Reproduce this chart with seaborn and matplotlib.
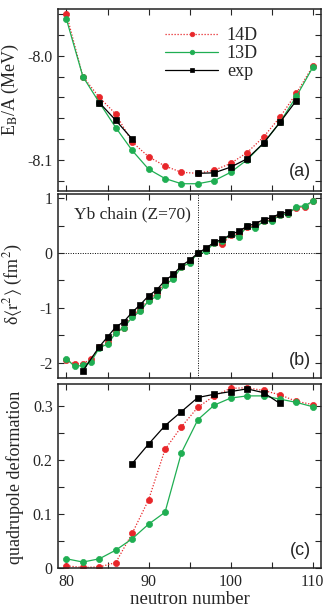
import numpy as np
import pandas as pd
import matplotlib
matplotlib.use("Agg")
import matplotlib.pyplot as plt
import seaborn as sns
from matplotlib.ticker import MultipleLocator, FormatStrFormatter, FuncFormatter

# ---- panel (a): binding energy per nucleon (even N)
n_a = list(range(80, 111, 2))
eb_14d = [-7.960, -8.020, -8.040, -8.056, -8.083, -8.097, -8.106, -8.112,
          -8.113, -8.110, -8.1035, -8.093, -8.078, -8.059, -8.036, -8.010]
eb_13d = [-7.965, -8.020, -8.045, -8.069, -8.091, -8.109, -8.118, -8.123,
          -8.123, -8.120, -8.112, -8.100, -8.084, -8.064, -8.039, -8.011]
eb_exp = [np.nan, np.nan, -8.045, -8.062, -8.080, np.nan, np.nan, np.nan,
          -8.113, -8.1125, -8.107, -8.099, -8.084, -8.064, -8.043, np.nan]

# ---- panel (b): charge radii shifts
n_b = list(range(80, 111))
r2_14d = [-1.95, -2.03, -2.02, -1.93, -1.72, -1.63, -1.43, -1.36, -1.13, -1.03,
          -0.85, -0.74, -0.55, -0.44, -0.26, -0.17, 0.00, 0.07, 0.19, 0.16,
          0.33, 0.35, 0.47, 0.50, 0.58, 0.61, 0.70, 0.72, 0.83, 0.84, 0.95]
r2_13d = [-1.93, -2.07, -2.05, -1.98, -1.73, -1.66, -1.46, -1.36, -1.17, -1.06,
          -0.87, -0.79, -0.58, -0.47, -0.25, -0.18, 0.00, 0.03, 0.19, 0.22,
          0.34, 0.30, 0.49, 0.45, 0.59, 0.58, 0.70, 0.71, 0.85, 0.86, 0.95]
n_b_exp = [82] + list(range(84, 108))
r2_exp = [-2.15, -1.71, -1.53, -1.35, -1.25, -1.08, -0.94, -0.78, -0.67, -0.50,
          -0.39, -0.23, -0.13, 0.00, 0.09, 0.20, 0.25, 0.34, 0.40, 0.49,
          0.54, 0.61, 0.65, 0.72, 0.75]

# ---- panel (c): quadrupole deformation
n_c = list(range(80, 111, 2))
beta_14d = [0.004, 0.001, 0.002, 0.010, 0.064, 0.126, 0.219, 0.261,
            0.297, 0.318, 0.332, 0.333, 0.328, 0.320, 0.308, 0.302]
beta_13d = [0.017, 0.011, 0.017, 0.033, 0.054, 0.081, 0.103, 0.213,
            0.274, 0.301, 0.314, 0.318, 0.318, 0.312, 0.306, 0.298]
n_c_exp = list(range(88, 107, 2))
beta_exp = [0.193, 0.229, 0.263, 0.289, 0.315, 0.321, 0.326, 0.331, 0.324, 0.304]

RED = "#e8262a"
GREEN = "#1fae52"

sns.set_style("ticks")
plt.rcParams["font.family"] = ["Liberation Serif", "DejaVu Serif"]
plt.rcParams["mathtext.fontset"] = "stix"
plt.rcParams["axes.unicode_minus"] = False


def draw(ax, x, y, color, ls, marker, ms, label=None):
    df = pd.DataFrame({"N": x, "v": y})
    df["seg"] = df["v"].isna().cumsum()
    df = df.dropna()
    sns.lineplot(data=df, x="N", y="v", units="seg", estimator=None, sort=False,
                 color=color, linestyle=ls, lw=0.9, marker=marker, markersize=ms,
                 markeredgecolor=color, markeredgewidth=0.5, label=label, ax=ax)


def style_axis(ax):
    ax.set_xlim(79, 111)
    ax.xaxis.set_major_locator(MultipleLocator(10))
    ax.xaxis.set_minor_locator(MultipleLocator(5))
    ax.tick_params(which="both", direction="in", top=True, right=True,
                   length=4, width=0.8, labelsize=11.5, pad=4)
    for s in ax.spines.values():
        s.set_linewidth(1.1)
        s.set_color("#222222")
    ax.set_xlabel("")
    leg = ax.get_legend()
    if leg is not None:
        leg.remove()


fig = plt.figure(figsize=(3.33, 6.13), dpi=100)
left, width = 0.175, 0.789
ax_a = fig.add_axes([left, 0.6884, width, 0.2969])
ax_b = fig.add_axes([left, 0.3834, width, 0.3002])
ax_c = fig.add_axes([left, 0.0734, width, 0.3002])

dots = (0, (1, 1.4))
MS_C, MS_S = 4.4, 4.8

# (a)
draw(ax_a, n_a, eb_14d, RED, dots, "o", MS_C, "14D")
draw(ax_a, n_a, eb_13d, GREEN, "-", "o", MS_C, "13D")
draw(ax_a, n_a, eb_exp, "black", "-", "s", MS_S, "exp")
style_axis(ax_a)
ax_a.set_ylim(-8.13, -7.955)
ax_a.yaxis.set_major_locator(MultipleLocator(0.1))
ax_a.yaxis.set_minor_locator(MultipleLocator(0.02))
ax_a.yaxis.set_major_formatter(FormatStrFormatter("%.1f"))
ax_a.tick_params(labelbottom=False)
ax_a.set_ylabel(r"E$_\mathrm{B}$/A (MeV)", fontsize=13)
ax_a.yaxis.set_label_coords(-0.14, 0.56)
h, l = ax_a.get_legend_handles_labels()
uniq = dict(zip(l, h))
ax_a.legend([uniq[k] for k in ["14D", "13D", "exp"]], ["14D", "13D", "exp"],
            loc="upper left", bbox_to_anchor=(0.36, 0.97), frameon=False,
            fontsize=13, handlelength=2.9, handletextpad=0.5,
            labelspacing=0.05, markerscale=0.75, borderpad=0.2)
ax_a.text(0.96, 0.06, "(a)", transform=ax_a.transAxes, ha="right", va="bottom",
          fontsize=13, family="Liberation Sans")

# (b)
draw(ax_b, n_b, r2_14d, RED, dots, "o", MS_C)
draw(ax_b, n_b, r2_13d, GREEN, "-", "o", MS_C)
draw(ax_b, n_b_exp, r2_exp, "black", "-", "s", MS_S)
ax_b.axhline(0, color="black", lw=0.7, ls=(0, (1, 1.5)), zorder=0)
ax_b.axvline(96, color="black", lw=0.7, ls=(0, (1, 1.5)), zorder=0)
style_axis(ax_b)
ax_b.set_ylim(-2.28, 1.08)
ax_b.yaxis.set_major_locator(MultipleLocator(1))
ax_b.yaxis.set_minor_locator(MultipleLocator(0.5))
ax_b.yaxis.set_major_formatter(FormatStrFormatter("%d"))
ax_b.tick_params(labelbottom=False)
ax_b.set_ylabel(r"δ$\langle\mathrm{r}^2\rangle$ (fm$^2$)", fontsize=13)
ax_b.yaxis.set_label_coords(-0.125, 0.51)
ax_b.text(0.06, 0.93, "Yb chain (Z=70)", transform=ax_b.transAxes,
          ha="left", va="top", fontsize=12.5)
ax_b.text(0.96, 0.05, "(b)", transform=ax_b.transAxes, ha="right", va="bottom",
          fontsize=13, family="Liberation Sans")

# (c)
draw(ax_c, n_c, beta_14d, RED, dots, "o", MS_C)
draw(ax_c, n_c, beta_13d, GREEN, "-", "o", MS_C)
draw(ax_c, n_c_exp, beta_exp, "black", "-", "s", MS_S)
style_axis(ax_c)
ax_c.set_ylim(0, 0.34)
ax_c.yaxis.set_major_locator(MultipleLocator(0.1))
ax_c.yaxis.set_minor_locator(MultipleLocator(0.05))
ax_c.yaxis.set_major_formatter(FuncFormatter(lambda v, p: "0" if abs(v) < 1e-9 else f"{v:.1f}"))
ax_c.set_xlabel("neutron number", fontsize=13.5, labelpad=1)
ax_c.set_ylabel("quadrupole deformation", fontsize=13)
ax_c.yaxis.set_label_coords(-0.132, 0.49)
ax_c.text(0.96, 0.05, "(c)", transform=ax_c.transAxes, ha="right", va="bottom",
          fontsize=13, family="Liberation Sans")

fig.savefig("out.png", dpi=100)
